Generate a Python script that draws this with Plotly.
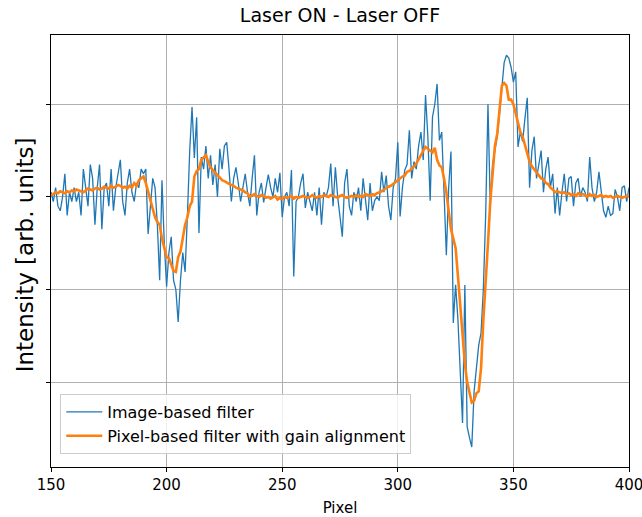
import plotly.graph_objects as go

# Pixel index along the detector row
pixel_start = 150
pixel_end = 400
pixels = list(range(pixel_start, pixel_end + 1))

# Difference signal (laser on minus laser off), image-based filter
image_filter = [
    0.05, -0.05, 0.10, -0.10, -0.15, 0.00, 0.25, -0.20, 0.05, -0.05,   # 150
    0.10, -0.05, 0.05, -0.20, 0.30, 0.10, -0.10, 0.35, 0.20, -0.30,    # 160
    0.10, 0.35, -0.35, 0.10, 0.15, -0.10, 0.30, -0.15, 0.10, 0.25,     # 170
    0.40, -0.05, -0.20, 0.15, 0.30, 0.05, -0.05, 0.15, 0.10, 0.30,     # 180
    0.25, 0.30, -0.40, -0.10, 0.20, 0.10, -0.30, -0.90, 0.18, -0.50,   # 190
    -0.97, -0.60, -0.43, -0.90, -1.00, -1.35, -0.90, -0.60, -0.81, -0.20,  # 200
    0.50, 0.97, 0.42, 0.86, -0.39, 0.43, 0.30, 0.55, 0.20, 0.45,       # 210
    0.13, 0.35, 0.00, 0.52, 0.30, 0.55, 0.59, 0.30, -0.05, 0.20,       # 220
    0.32, 0.15, -0.05, 0.10, 0.25, 0.05, -0.10, 0.20, 0.45, -0.20,     # 230
    0.05, 0.15, -0.06, 0.10, 0.24, 0.10, 0.00, 0.20, 0.05, 0.26,       # 240
    -0.22, 0.00, 0.05, -0.10, 0.29, -0.86, -0.05, 0.00, 0.15, 0.25,    # 250
    -0.12, 0.05, -0.05, -0.15, 0.05, -0.20, 0.10, -0.30, 0.05, 0.00,   # 260
    0.10, 0.36, -0.10, 0.32, 0.00, -0.20, -0.43, 0.15, 0.30, -0.10,    # 270
    -0.20, 0.05, -0.05, 0.10, -0.15, 0.20, 0.00, -0.25, 0.15, -0.15,   # 280
    -0.04, 0.00, -0.04, 0.27, 0.05, 0.23, -0.10, -0.25, 0.10, 0.20,    # 290
    0.59, -0.21, 0.10, 0.29, 0.35, 0.72, 0.20, 0.38, 0.30, 0.55,       # 300
    0.70, 0.40, 1.10, 0.65, -0.04, 0.86, 1.00, 1.22, 0.61, 0.70,       # 310
    0.05, -0.63, 0.10, 0.49, -1.36, -0.95, -1.32, -1.90, -2.44, -0.95, # 320
    -2.48, -2.60, -2.70, -2.10, -1.83, -1.60, -1.47, -1.00, -0.20, 1.00,  # 330
    -0.10, 0.36, 0.50, 0.65, 0.90, 1.22, 1.45, 1.53, 1.50, 1.40,       # 340
    1.24, 1.35, 0.54, 0.70, 0.60, 0.85, 1.07, 0.10, 0.50, 0.65,        # 350
    0.20, 0.35, 0.50, 0.05, 0.30, 0.43, 0.10, 0.25, -0.18, 0.10,       # 360
    -0.20, 0.05, 0.25, -0.05, 0.20, 0.22, -0.10, 0.15, 0.20, 0.00,     # 370
    0.10, 0.05, -0.05, 0.43, 0.10, -0.05, 0.05, 0.27, 0.05, -0.15,     # 380
    -0.22, -0.10, -0.20, -0.18, 0.08, 0.00, -0.15, 0.10, 0.12, -0.05,  # 390
    0.10,                                                              # 400
]

# Same signal, pixel-based filter with gain alignment
pixel_filter = [
    0.02, 0.03, 0.05, 0.04, 0.06, 0.05, 0.04, 0.06, 0.05, 0.07,        # 150
    0.06, 0.08, 0.07, 0.06, 0.05, 0.07, 0.09, 0.08, 0.07, 0.09,        # 160
    0.10, 0.08, 0.09, 0.11, 0.10, 0.09, 0.12, 0.10, 0.11, 0.13,        # 170
    0.12, 0.10, 0.11, 0.09, 0.12, 0.10, 0.15, 0.12, 0.18, 0.20,        # 180
    0.22, 0.15, 0.05, -0.05, -0.15, -0.22, -0.27, -0.30, -0.45, -0.55, # 190
    -0.65, -0.66, -0.72, -0.80, -0.81, -0.65, -0.59, -0.45, -0.30, -0.22,  # 200
    -0.10, -0.05, 0.22, 0.28, 0.30, 0.40, 0.43, 0.45, 0.38, 0.32,      # 210
    0.29, 0.26, 0.24, 0.20, 0.18, 0.17, 0.15, 0.14, 0.13, 0.12,        # 220
    0.10, 0.09, 0.08, 0.07, 0.05, 0.04, 0.00, 0.02, 0.03, 0.01,        # 230
    0.00, 0.02, 0.01, -0.01, 0.00, -0.02, 0.00, 0.01, -0.03, -0.01,    # 240
    -0.02, 0.00, -0.01, 0.00, 0.01, -0.02, 0.00, -0.01, 0.00, 0.01,    # 250
    0.00, -0.01, 0.00, 0.02, 0.00, -0.01, 0.01, 0.00, 0.02, 0.01,      # 260
    0.00, 0.02, 0.01, 0.00, -0.01, 0.01, 0.02, 0.00, -0.01, 0.00,      # 270
    0.01, 0.00, 0.02, 0.00, 0.01, 0.00, 0.03, 0.02, 0.01, 0.03,        # 280
    0.02, 0.04, 0.05, 0.06, 0.08, 0.10, 0.11, 0.12, 0.14, 0.17,        # 290
    0.19, 0.20, 0.22, 0.23, 0.27, 0.28, 0.30, 0.33, 0.36, 0.40,        # 300
    0.45, 0.50, 0.54, 0.52, 0.50, 0.48, 0.53, 0.40, 0.34, 0.32,        # 310
    0.20, 0.05, -0.15, -0.35, -0.45, -0.55, -0.85, -1.20, -1.55, -1.80,  # 320
    -2.00, -2.10, -2.22, -2.20, -2.12, -2.10, -1.85, -1.33, -0.95, -0.50,  # 330
    -0.05, 0.30, 0.55, 0.68, 0.95, 1.20, 1.23, 1.20, 1.05, 1.05,       # 340
    1.00, 0.90, 0.78, 0.70, 0.65, 0.55, 0.45, 0.38, 0.33, 0.30,        # 350
    0.27, 0.24, 0.20, 0.19, 0.15, 0.14, 0.10, 0.08, 0.05, 0.06,        # 360
    0.05, 0.04, 0.05, 0.03, 0.04, 0.02, 0.03, 0.01, 0.04, 0.02,        # 370
    0.03, 0.02, 0.00, 0.03, 0.01, 0.02, 0.00, 0.01, 0.02, 0.00,        # 380
    0.01, 0.00, 0.01, -0.01, 0.00, 0.01, 0.00, -0.01, 0.00, 0.01,      # 390
    0.00,                                                              # 400
]

x_ticks = [150, 200, 250, 300, 350, 400]
y_ticks = [-2, -1, 0, 1]

font_family = "DejaVu Sans, Liberation Sans, sans-serif"

# Plot-area geometry in pixels
left, right, top, bottom = 51, 13, 35, 50
plot_w = 642 - left - right

fig = go.Figure()
fig.add_trace(go.Scatter(
    x=pixels, y=image_filter, mode="lines",
    name="Image-based filter",
    line=dict(color="#1f77b4", width=1.3),
))
fig.add_trace(go.Scatter(
    x=pixels, y=pixel_filter, mode="lines",
    name="Pixel-based filter with gain alignment",
    line=dict(color="#ff7f0e", width=2.6),
))

fig.update_layout(
    width=642, height=517,
    margin=dict(l=left, r=right, t=top, b=bottom),
    paper_bgcolor="white", plot_bgcolor="white",
    font=dict(family=font_family, color="black", size=15),
    title=dict(text="Laser ON - Laser OFF", x=(left + 642 - right) / 2 / 642, xanchor="center",
               y=1 - 15 / 517, yanchor="middle", font=dict(size=19)),
    showlegend=True,
    legend=dict(
        x=0.016, y=0.03, xanchor="left", yanchor="bottom",
        bgcolor="rgba(255,255,255,0.8)", bordercolor="#cccccc", borderwidth=1,
        font=dict(size=16), tracegroupgap=0, itemwidth=36,
    ),
    annotations=[dict(
        text="Intensity [arb. units]", textangle=-90,
        xref="paper", yref="paper", x=-(left - 25) / plot_w, y=0.49,
        xanchor="center", yanchor="middle", showarrow=False,
        font=dict(size=23),
    )],
)

fig.update_xaxes(
    range=[pixel_start, pixel_end], tickvals=x_ticks,
    showgrid=True, gridcolor="#b0b0b0", gridwidth=1,
    showline=True, linecolor="black", linewidth=1, mirror=True,
    ticks="outside", ticklen=4, tickcolor="black", zeroline=False,
    ticklabeloverflow="allow", automargin=False,
    title=dict(text="Pixel", font=dict(size=15)),
    tickfont=dict(size=15),
)
fig.update_yaxes(
    range=[-2.916, 1.748], tickvals=y_ticks, ticktext=["", "", "", ""],
    showgrid=True, gridcolor="#b0b0b0", gridwidth=1,
    showline=True, linecolor="black", linewidth=1, mirror=True,
    ticks="outside", ticklen=4, tickcolor="black", zeroline=False,
    automargin=False,
)

fig.write_html("out.html")
